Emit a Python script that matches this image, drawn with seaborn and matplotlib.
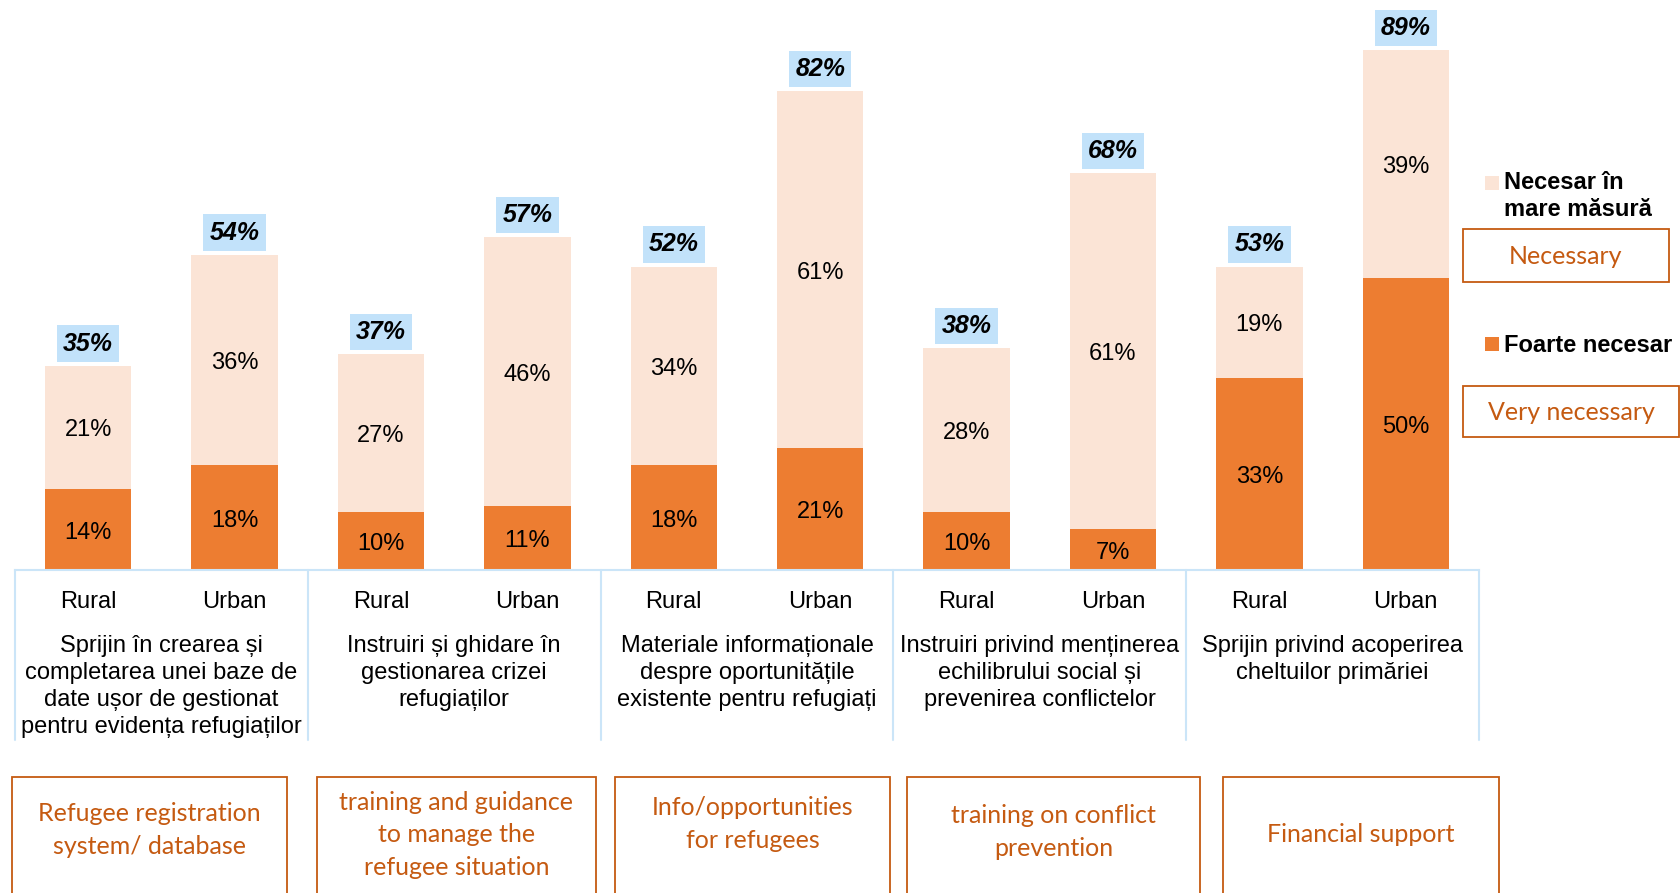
import numpy as np
import pandas as pd
import seaborn as sns
import matplotlib.pyplot as plt
from matplotlib.patches import Rectangle
from matplotlib.transforms import blended_transform_factory

# data
groups = [
    "Sprijin în crearea și\ncompletarea unei baze de\ndate ușor de gestionat\npentru evidența refugiaților",
    "Instruiri și ghidare în\ngestionarea crizei\nrefugiaților",
    "Materiale informaționale\ndespre oportunitățile\nexistente pentru refugiați",
    "Instruiri privind menținerea\nechilibrului social și\nprevenirea conflictelor",
    "Sprijin privind acoperirea\ncheltuilor primăriei",
]
english = [
    "Refugee registration\nsystem/ database",
    "training and guidance\nto manage the\nrefugee situation",
    "Info/opportunities\nfor refugees",
    "training on conflict\nprevention",
    "Financial support",
]
area = ["Rural", "Urban"] * 5
very = [14, 18, 10, 11, 18, 21, 10, 7, 33, 50]       # Foarte necesar
large = [21, 36, 27, 46, 34, 61, 28, 61, 19, 39]     # Necesar in mare masura
totals = [35, 54, 37, 57, 52, 82, 38, 68, 53, 89]

DARK = "#ed7d31"
LIGHT = "#fbe4d6"
BLUE = "#c2e2fa"
LINE = "#cbe5f8"
ORANGE_TXT = "#c55a11"

W, H = 1681, 893
sns.set_theme(style="white")
plt.rcParams['font.family'] = ['Liberation Sans', 'DejaVu Sans']
plt.rcParams['text.color'] = 'black'


def fy(py):
    return (H - py) / H


def fx(px):
    return px / W


fig = plt.figure(figsize=(W / 100, H / 100), dpi=100)
ax = fig.add_axes([fx(15), fy(570.3), 1464 / W, 555 / H])

pos = np.arange(len(area))
df = pd.DataFrame({"pos": pos, "very": very, "large": large})
df["stack"] = df["very"] + df["large"]

sns.barplot(data=df, x="pos", y="stack", native_scale=True, color=LIGHT,
            saturation=1, width=0.59, linewidth=0, errorbar=None, ax=ax)
sns.barplot(data=df, x="pos", y="very", native_scale=True, color=DARK,
            saturation=1, width=0.59, linewidth=0, errorbar=None, ax=ax)

ax.set_xlim(-0.5, 9.5)
ax.set_ylim(0, 95)
ax.set_xlabel("")
ax.set_ylabel("")
ax.set_yticks([])
for s in ["top", "left", "right"]:
    ax.spines[s].set_visible(False)
ax.spines["bottom"].set_color(LINE)
ax.spines["bottom"].set_linewidth(1.5)
ax.set_xticks(pos, area)
ax.tick_params(axis="x", length=0, pad=15, labelsize=17, labelcolor="black")

# segment labels
for i in pos:
    ax.annotate(f"{very[i]}%", xy=(i, very[i] / 2), xytext=(0, -2.3),
                textcoords="offset points", ha="center", va="center", fontsize=17)
    ax.annotate(f"{large[i]}%", xy=(i, very[i] + large[i] / 2), xytext=(0, -2.3),
                textcoords="offset points", ha="center", va="center", fontsize=17)
    ax.annotate(f"{totals[i]}%", xy=(i, very[i] + large[i]), xytext=(0, 16),
                textcoords="offset points", ha="center", va="center",
                fontsize=18, fontweight="bold", fontstyle="italic",
                bbox=dict(boxstyle="square,pad=0.25", fc=BLUE, ec="none"))

# group separators and labels under the axis
xt = ax.get_xaxis_transform()
for b in np.arange(-0.5, 10, 2):
    ax.plot([b, b], [0, (570.3 - 740) / 555], transform=xt, color=LINE,
            lw=1.5, clip_on=False)

tr = blended_transform_factory(ax.transData, fig.transFigure)
for g, label in enumerate(groups):
    ax.text(2 * g + 0.5, fy(635), label, transform=tr, ha="center", va="top",
            fontsize=17, linespacing=1.3)

# english boxes at the bottom
box_x = [(12, 287), (317, 596), (615, 890), (907, 1200), (1223, 1499)]
box_ty = [830, 835, 824, 832, 835]
for (x0, x1), ty, label in zip(box_x, box_ty, english):
    fig.patches.append(Rectangle((fx(x0), fy(893 + 10)), fx(x1 - x0), (893 + 10 - 777) / H,
                                 transform=fig.transFigure, fill=False,
                                 ec=ORANGE_TXT, lw=1.3))
    fig.text(fx((x0 + x1) / 2), fy(ty), label, ha="center", va="center",
             fontsize=18, color=ORANGE_TXT, family="Lato", linespacing=1.5)

# legend
fig.patches.append(Rectangle((fx(1485), fy(190)), 14 / W, 14 / H,
                             transform=fig.transFigure, fc=LIGHT, ec="none"))
fig.text(fx(1504), fy(196), "Necesar în\nmare măsură", ha="left", va="center",
         fontsize=17, fontweight="bold", linespacing=1.2)
fig.patches.append(Rectangle((fx(1463), fy(282)), 206 / W, 53 / H,
                             transform=fig.transFigure, fill=False, ec=ORANGE_TXT, lw=1.3))
fig.text(fx(1566), fy(257), "Necessary", ha="center", va="center",
         fontsize=18, color=ORANGE_TXT, family="Lato")

fig.patches.append(Rectangle((fx(1485), fy(351)), 14 / W, 14 / H,
                             transform=fig.transFigure, fc=DARK, ec="none"))
fig.text(fx(1504), fy(346), "Foarte necesar", ha="left", va="center",
         fontsize=17, fontweight="bold")
fig.patches.append(Rectangle((fx(1463), fy(437)), 216 / W, 51 / H,
                             transform=fig.transFigure, fill=False, ec=ORANGE_TXT, lw=1.3))
fig.text(fx(1571), fy(413), "Very necessary", ha="center", va="center",
         fontsize=18, color=ORANGE_TXT, family="Lato")

fig.savefig("out.png", dpi=100)
